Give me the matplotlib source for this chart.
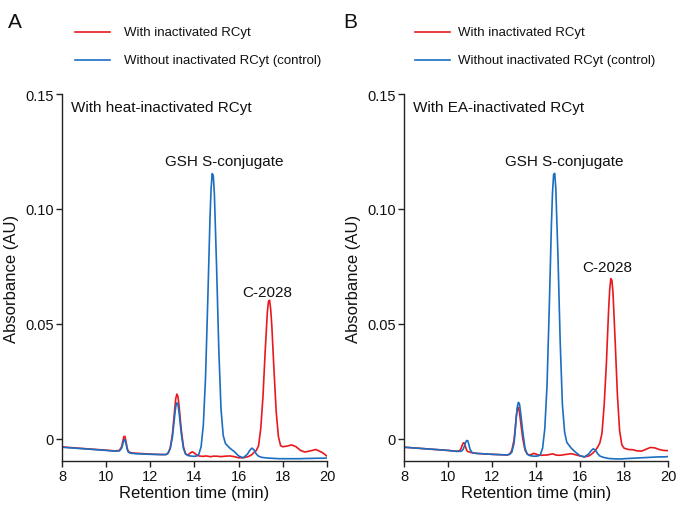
import matplotlib
matplotlib.use("Agg")
import matplotlib.pyplot as plt
from matplotlib.lines import Line2D

plt.rcParams['font.family'] = ['Liberation Sans', 'DejaVu Sans']

RED = '#E8191E'
BLUE = '#1B6EC2'

# ---------------- data ----------------
time_A = [8.0, 9.0, 10.0, 10.4, 10.6, 10.7, 10.75, 10.8, 10.85, 10.9, 10.95, 11.0, 11.1, 11.3,
          12.0, 12.5, 12.7, 12.8, 12.9, 13.0, 13.1, 13.15, 13.2, 13.25, 13.3, 13.4, 13.5, 13.6,
          13.7, 13.8, 13.9, 14.0, 14.1, 14.2, 14.3, 14.4, 14.5, 14.6, 14.7, 14.75, 14.8, 14.85,
          14.9, 15.0, 15.1, 15.2, 15.3, 15.4, 15.6, 15.8, 16.0, 16.2, 16.4, 16.5, 16.6, 16.7,
          16.8, 16.9, 17.0, 17.1, 17.2, 17.3, 17.35, 17.4, 17.45, 17.5, 17.6, 17.7, 17.8, 17.9,
          18.0, 18.2, 18.4, 18.6, 18.8, 19.0, 19.2, 19.5, 19.8, 20.0]

with_A = [-0.0035, -0.0042, -0.0049, -0.0052, -0.0050, -0.0034, -0.0012, 0.0010, 0.0011, -0.0012,
          -0.0040, -0.0054, -0.0060, -0.0062, -0.0066, -0.0068, -0.0068, -0.0062, -0.0040, 0.0020,
          0.0125, 0.0175, 0.0195, 0.0185, 0.0145, 0.0040, -0.0035, -0.0066, -0.0070, -0.0062,
          -0.0056, -0.0062, -0.0070, -0.0074, -0.0075, -0.0076, -0.0074, -0.0075, -0.0077, -0.0077,
          -0.0076, -0.0075, -0.0075, -0.0075, -0.0076, -0.0077, -0.0076, -0.0075, -0.0074, -0.0077,
          -0.0082, -0.0082, -0.0078, -0.0074, -0.0068, -0.0058, -0.0050, -0.0030, 0.0045, 0.0183,
          0.0380, 0.0553, 0.0598, 0.0603, 0.0565, 0.0494, 0.0299, 0.0118, 0.0010, -0.0030,
          -0.0034, -0.0031, -0.0026, -0.0034, -0.0050, -0.0057, -0.0053, -0.0046, -0.0060, -0.0075]

without_A = [-0.0036, -0.0043, -0.0050, -0.0053, -0.0052, -0.0040, -0.0024, -0.0006, -0.0003, -0.0020,
             -0.0045, -0.0057, -0.0062, -0.0064, -0.0067, -0.0068, -0.0068, -0.0063, -0.0042, 0.0008,
             0.0098, 0.0140, 0.0157, 0.0150, 0.0115, 0.0025, -0.0042, -0.0066, -0.0072, -0.0074,
             -0.0075, -0.0076, -0.0074, -0.0066, -0.0033, 0.0061, 0.0268, 0.0599, 0.0956, 0.1086,
             0.1154, 0.1146, 0.1065, 0.0749, 0.0390, 0.0130, 0.0015, -0.0020, -0.0040, -0.0055,
             -0.0074, -0.0082, -0.0066, -0.0050, -0.0040, -0.0048, -0.0066, -0.0075, -0.0079, -0.0081,
             -0.0082, -0.0083, -0.0083, -0.0084, -0.0084, -0.0084, -0.0085, -0.0085, -0.0086, -0.0086,
             -0.0086, -0.0086, -0.0086, -0.0086, -0.0086, -0.0085, -0.0085, -0.0084, -0.0084, -0.0083]

time_B = [8.0, 9.0, 10.0, 10.4, 10.55, 10.6, 10.65, 10.7, 10.75, 10.8, 10.85, 10.9, 10.95, 11.0,
          11.1, 11.3, 12.0, 12.5, 12.7, 12.8, 12.9, 13.0, 13.05, 13.1, 13.15, 13.2, 13.25, 13.3,
          13.4, 13.5, 13.6, 13.7, 13.8, 13.9, 14.0, 14.1, 14.2, 14.3, 14.4, 14.5, 14.6, 14.7,
          14.75, 14.8, 14.85, 14.9, 15.0, 15.1, 15.2, 15.3, 15.4, 15.6, 15.8, 16.0, 16.2, 16.4,
          16.5, 16.6, 16.7, 16.8, 16.9, 17.0, 17.1, 17.2, 17.3, 17.35, 17.4, 17.45, 17.5, 17.6,
          17.7, 17.8, 17.9, 18.0, 18.2, 18.4, 18.6, 18.8, 19.0, 19.2, 19.4, 19.6, 19.8, 20.0]

with_B = [-0.0036, -0.0043, -0.0050, -0.0054, -0.0050, -0.0040, -0.0026, -0.0017, -0.0018, -0.0035,
          -0.0050, -0.0055, -0.0056, -0.0058, -0.0060, -0.0063, -0.0067, -0.0069, -0.0070, -0.0066,
          -0.0050, -0.0005, 0.0040, 0.0095, 0.0130, 0.0137, 0.0115, 0.0075, 0.0000, -0.0048,
          -0.0066, -0.0070, -0.0067, -0.0063, -0.0066, -0.0070, -0.0071, -0.0071, -0.0070, -0.0070,
          -0.0068, -0.0066, -0.0065, -0.0066, -0.0068, -0.0070, -0.0071, -0.0071, -0.0070, -0.0068,
          -0.0067, -0.0064, -0.0069, -0.0074, -0.0078, -0.0074, -0.0068, -0.0060, -0.0050, -0.0036,
          -0.0018, 0.0025, 0.0150, 0.0330, 0.0561, 0.0649, 0.0697, 0.0690, 0.0635, 0.0422,
          0.0192, 0.0036, -0.0025, -0.0040, -0.0046, -0.0047, -0.0052, -0.0053, -0.0045, -0.0037,
          -0.0039, -0.0046, -0.0050, -0.0051]

without_B = [-0.0036, -0.0043, -0.0050, -0.0054, -0.0054, -0.0053, -0.0050, -0.0043, -0.0030, -0.0015,
             -0.0007, -0.0008, -0.0025, -0.0045, -0.0060, -0.0063, -0.0067, -0.0069, -0.0069, -0.0067,
             -0.0058, -0.0020, 0.0030, 0.0090, 0.0140, 0.0159, 0.0152, 0.0115, 0.0030, -0.0040,
             -0.0066, -0.0072, -0.0074, -0.0075, -0.0075, -0.0074, -0.0068, -0.0040, 0.0045, 0.0230,
             0.0560, 0.0930, 0.1070, 0.1150, 0.1155, 0.1090, 0.0790, 0.0420, 0.0150, 0.0030,
             -0.0015, -0.0040, -0.0058, -0.0073, -0.0078, -0.0065, -0.0052, -0.0043, -0.0048, -0.0064,
             -0.0074, -0.0078, -0.0081, -0.0083, -0.0085, -0.0085, -0.0086, -0.0086, -0.0086, -0.0087,
             -0.0087, -0.0087, -0.0087, -0.0086, -0.0085, -0.0084, -0.0083, -0.0082, -0.0081, -0.0080,
             -0.0079, -0.0078, -0.0078, -0.0077]

legend_labels = ['With inactivated RCyt', 'Without inactivated RCyt (control)']
panel_letters = ['A', 'B']
panel_titles = ['With heat-inactivated RCyt', 'With EA-inactivated RCyt']
x_ticks = [8, 10, 12, 14, 16, 18, 20]
y_ticks = [0, 0.05, 0.10, 0.15]
y_tick_labels = ['0', '0.05', '0.10', '0.15']
peak_labels = ['GSH S-conjugate', 'C-2028']
peak_label_pos_A = [(15.34, 0.1193), (17.29, 0.0623)]
peak_label_pos_B = [(15.29, 0.1193), (17.24, 0.0732)]

# ---------------- figure ----------------
W, H = 680, 510
fig = plt.figure(figsize=(W / 100, H / 100), dpi=100)

def fx(px):
    return px / W

def fy(py):
    return 1 - py / H

axA = fig.add_axes([fx(62), fy(462), fx(327) - fx(62), fy(95) - fy(462)])
axB = fig.add_axes([fx(404), fy(462), fx(668) - fx(404), fy(95) - fy(462)])

panels = [
    (axA, time_A, with_A, without_A, peak_label_pos_A, 0),
    (axB, time_B, with_B, without_B, peak_label_pos_B, 1),
]

for ax, t, w, wo, ppos, i in panels:
    ax.plot(t, w, color=RED, lw=1.2, solid_joinstyle='round')
    ax.plot(t, wo, color=BLUE, lw=1.2, solid_joinstyle='round')
    ax.set_xlim(8, 20)
    ax.set_ylim(-0.0096, 0.15)
    ax.set_xticks(x_ticks)
    ax.set_xticklabels([str(v) for v in x_ticks], fontsize=10.5)
    ax.set_yticks(y_ticks)
    ax.set_yticklabels(y_tick_labels, fontsize=10.5)
    ax.tick_params(direction='out', length=4, width=1.0, pad=2, colors='#222222')
    ax.tick_params(labelcolor='#111111')
    for s in ['top', 'right']:
        ax.spines[s].set_visible(False)
    for s in ['left', 'bottom']:
        ax.spines[s].set_linewidth(1.0)
        ax.spines[s].set_color('#222222')
    ax.set_xlabel('Retention time (min)', fontsize=12, labelpad=1, color='#111111')
    ax.set_ylabel('Absorbance (AU)', fontsize=12, labelpad=4, color='#111111')
    ax.text(8.4, 0.1445, panel_titles[i], fontsize=11, va='center', ha='left', color='#111111')
    for lab, (x, y) in zip(peak_labels, ppos):
        ax.text(x, y, lab, fontsize=11, ha='center', va='baseline', color='#111111')

# panel letters and legends
letter_x = [8, 343]
leg_line_x = [(75, 110), (415, 450)]
leg_text_x = [124, 458]
for i in range(2):
    fig.text(fx(letter_x[i]), fy(28), panel_letters[i], fontsize=15, ha='left', va='baseline', color='#111111')
    for col, ypix, lab in [(RED, 33, legend_labels[0]), (BLUE, 61, legend_labels[1])]:
        x0, x1 = leg_line_x[i]
        fig.add_artist(Line2D([fx(x0), fx(x1)], [fy(ypix), fy(ypix)], color=col, lw=1.2,
                              transform=fig.transFigure))
        fig.text(fx(leg_text_x[i]), fy(ypix), lab, fontsize=9.5, ha='left', va='center', color='#111111')

fig.savefig('out.png', dpi=100)
